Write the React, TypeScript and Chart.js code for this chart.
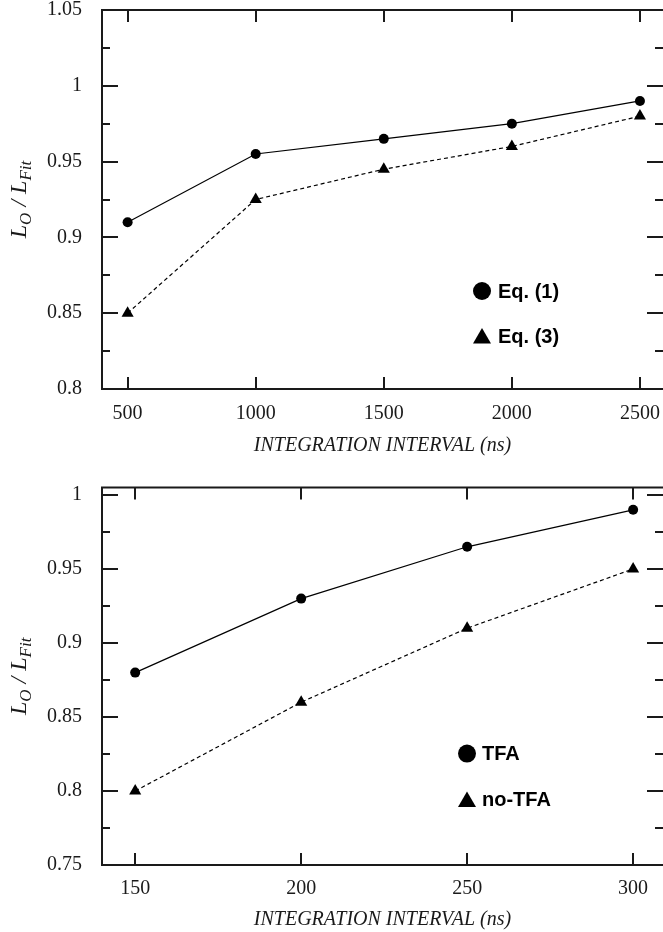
import React, { useEffect, useRef } from 'react';
import { Chart, registerables } from 'chart.js';
Chart.register(...registerables);

// ---- data ----
const topX = [500, 1000, 1500, 2000, 2500];
const topEq1 = [0.91, 0.955, 0.965, 0.975, 0.99];
const topEq3 = [0.85, 0.925, 0.945, 0.96, 0.98];
const topYMajor = [0.8, 0.85, 0.9, 0.95, 1, 1.05];
const topYMinor = [0.825, 0.875, 0.925, 0.975, 1.025];
const topLabels = ['Eq. (1)', 'Eq. (3)'];

const botX = [150, 200, 250, 300];
const botTFA = [0.88, 0.93, 0.965, 0.99];
const botNoTFA = [0.8, 0.86, 0.91, 0.95];
const botYMajor = [0.75, 0.8, 0.85, 0.9, 0.95, 1];
const botYMinor = [0.775, 0.825, 0.875, 0.925, 0.975];
const botLabels = ['TFA', 'no-TFA'];

const xTitle = 'INTEGRATION INTERVAL (ns)';

const SERIF = '"Liberation Serif", "Times New Roman", serif';
const SANS = '"Liberation Sans", Arial, sans-serif';
const INK = '#1a1a1a';

const isIn = (arr: number[], v: number) => arr.some((a) => Math.abs(a - v) < 1e-9);

const framePlugin = {
  id: 'frame',
  beforeDatasetsDraw(chart: any, _a: any, opts: any) {
    const { ctx, chartArea: a, scales } = chart;
    const xs = scales.x;
    const ys = scales.y;
    ctx.save();
    ctx.strokeStyle = INK;
    ctx.lineWidth = 2;
    ctx.beginPath();
    ctx.moveTo(a.left, a.top);
    ctx.lineTo(a.right, a.top);
    ctx.moveTo(a.left, a.top - 1);
    ctx.lineTo(a.left, a.bottom + 1);
    ctx.moveTo(a.left, a.bottom);
    ctx.lineTo(a.right, a.bottom);
    xs.ticks.forEach((t: any) => {
      const px = Math.round(xs.getPixelForValue(t.value));
      ctx.moveTo(px, a.bottom);
      ctx.lineTo(px, a.bottom - 12);
      ctx.moveTo(px, a.top);
      ctx.lineTo(px, a.top + 12);
    });
    ys.ticks.forEach((t: any) => {
      const py = Math.round(ys.getPixelForValue(t.value));
      const len = isIn(opts.major, t.value) ? 16 : 8;
      ctx.moveTo(a.left, py);
      ctx.lineTo(a.left + len, py);
      ctx.moveTo(a.right, py);
      ctx.lineTo(a.right - len, py);
    });
    ctx.stroke();
    ctx.restore();
  },
};

const legendPlugin = {
  id: 'inLegend',
  afterDatasetsDraw(chart: any, _a: any, opts: any) {
    const { ctx, chartArea: a } = chart;
    ctx.save();
    chart.data.datasets.forEach((ds: any, i: number) => {
      const cx = a.left + opts.dx;
      const cy = a.top + opts.dy + i * opts.gap;
      ctx.fillStyle = '#000';
      ctx.beginPath();
      if (ds.pointStyle === 'triangle') {
        ctx.moveTo(cx, cy - 8);
        ctx.lineTo(cx + 9, cy + 7.5);
        ctx.lineTo(cx - 9, cy + 7.5);
        ctx.closePath();
      } else {
        ctx.arc(cx, cy, 9, 0, Math.PI * 2);
      }
      ctx.fill();
      ctx.font = `bold 20px ${SANS}`;
      ctx.textBaseline = 'middle';
      ctx.textAlign = 'left';
      ctx.fillText(ds.label, cx + opts.textGap, cy + 1);
    });
    ctx.restore();
  },
};

const yTitlePlugin = {
  id: 'yTitle',
  afterDraw(chart: any, _a: any, opts: any) {
    const { ctx, chartArea: a } = chart;
    const main = `italic 24px ${SERIF}`;
    const sub = `italic 17px ${SERIF}`;
    const parts = [
      { t: 'L', f: main, dy: 0 },
      { t: 'O', f: sub, dy: 5 },
      { t: ' / ', f: main, dy: 0 },
      { t: 'L', f: main, dy: 0 },
      { t: 'Fit', f: sub, dy: 5 },
    ];
    ctx.save();
    let total = 0;
    const widths = parts.map((p) => {
      ctx.font = p.f;
      const w = ctx.measureText(p.t).width;
      total += w;
      return w;
    });
    ctx.translate(opts.x, (a.top + a.bottom) / 2);
    ctx.rotate(-Math.PI / 2);
    ctx.fillStyle = INK;
    ctx.textBaseline = 'alphabetic';
    ctx.textAlign = 'left';
    let pos = -total / 2;
    parts.forEach((p, i) => {
      ctx.font = p.f;
      ctx.fillText(p.t, pos, p.dy);
      pos += widths[i];
    });
    ctx.restore();
  },
};

function buildConfig(o: any) {
  const tickFont = { family: SERIF, size: 20, lineHeight: 1 };
  return {
    type: 'line',
    data: {
      datasets: [
        {
          label: o.labels[0],
          data: o.xs.map((x: number, i: number) => ({ x, y: o.s1[i] })),
          borderColor: '#000',
          backgroundColor: '#000',
          borderWidth: 1.2,
          pointStyle: 'circle',
          pointRadius: 5,
          pointBorderWidth: 0,
          tension: 0,
        },
        {
          label: o.labels[1],
          data: o.xs.map((x: number, i: number) => ({ x, y: o.s2[i] })),
          borderColor: '#000',
          backgroundColor: '#000',
          borderWidth: 1.2,
          borderDash: [4, 3],
          pointStyle: 'triangle',
          pointRadius: 7,
          pointBorderWidth: 0,
          tension: 0,
        },
      ],
    },
    options: {
      responsive: false,
      animation: false,
      devicePixelRatio: 1,
      layout: { autoPadding: false, padding: { top: o.padTop, left: 0, right: 0, bottom: 0 } },
      clip: false,
      scales: {
        x: {
          type: 'linear',
          min: o.xMin,
          max: o.xMax,
          afterBuildTicks: (s: any) => {
            s.ticks = o.xs.map((v: number) => ({ value: v }));
          },
          afterFit: (s: any) => {
            s.height = o.xAxisHeight;
            s.paddingLeft = 0;
            s.paddingRight = 0;
            s.paddingTop = 0;
            s.paddingBottom = 0;
          },
          grid: { display: false, drawTicks: false },
          border: { display: false },
          ticks: {
            font: tickFont,
            color: INK,
            padding: o.tickPad,
            maxRotation: 0,
            callback: (v: number) => String(v),
          },
          title: {
            display: true,
            text: xTitle,
            color: INK,
            font: { family: SERIF, size: 20, style: 'italic', lineHeight: 1.2 },
            padding: { top: 0, bottom: o.titlePad },
          },
        },
        y: {
          type: 'linear',
          min: o.yMin,
          max: o.yMax,
          afterBuildTicks: (s: any) => {
            s.ticks = [...o.yMajor, ...o.yMinor]
              .sort((p: number, q: number) => p - q)
              .map((v: number) => ({ value: v }));
          },
          afterFit: (s: any) => {
            s.width = 102;
            s.paddingLeft = 0;
            s.paddingRight = 0;
            s.paddingTop = 0;
            s.paddingBottom = 0;
          },
          grid: { display: false, drawTicks: false },
          border: { display: false },
          ticks: {
            font: tickFont,
            color: INK,
            padding: 20,
            autoSkip: false,
            callback: (v: number) => (isIn(o.yMajor, v) ? String(v) : ''),
          },
        },
      },
      plugins: {
        legend: { display: false },
        tooltip: { enabled: false },
        frame: { major: o.yMajor },
        inLegend: o.legend,
        yTitle: { x: 26 },
      },
    },
    plugins: [framePlugin, legendPlugin, yTitlePlugin],
  } as any;
}

export default function App() {
  const topRef = useRef<HTMLCanvasElement>(null);
  const botRef = useRef<HTMLCanvasElement>(null);
  useEffect(() => {
    document.body.style.margin = '0';
    const c1 = new Chart(
      topRef.current as HTMLCanvasElement,
      buildConfig({
        xs: topX,
        s1: topEq1,
        s2: topEq3,
        labels: topLabels,
        xMin: 400,
        xMax: 2590,
        yMin: 0.8,
        yMax: 1.05,
        yMajor: topYMajor,
        yMinor: topYMinor,
        padTop: 10,
        xAxisHeight: 77,
        tickPad: 15,
        titlePad: 8,
        legend: { dx: 380, dy: 281, gap: 45, textGap: 16 },
      })
    );
    const c2 = new Chart(
      botRef.current as HTMLCanvasElement,
      buildConfig({
        xs: botX,
        s1: botTFA,
        s2: botNoTFA,
        labels: botLabels,
        xMin: 140,
        xMax: 309,
        yMin: 0.75,
        yMax: 1.005,
        yMajor: botYMajor,
        yMinor: botYMinor,
        padTop: 21.6,
        xAxisHeight: 67,
        tickPad: 14,
        titlePad: 0,
        legend: { dx: 365, dy: 266, gap: 46, textGap: 15 },
      })
    );
    return () => {
      c1.destroy();
      c2.destroy();
    };
  }, []);
  return (
    <div style={{ position: 'absolute', left: 0, top: 0, width: 663, height: 932, background: '#fff' }}>
      <canvas ref={topRef} width={663} height={466} style={{ display: 'block' }} />
      <canvas ref={botRef} width={663} height={466} style={{ display: 'block' }} />
    </div>
  );
}
